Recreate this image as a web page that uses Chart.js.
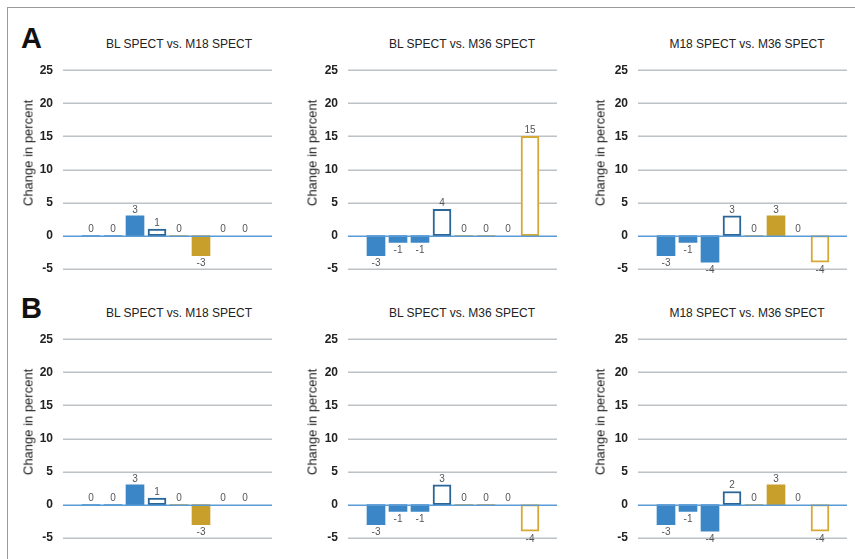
<!DOCTYPE html>
<html>
<head>
<meta charset="utf-8">
<script src="https://cdn.jsdelivr.net/npm/chart.js@4.4.1/dist/chart.umd.min.js"></script>
<style>
  body { margin: 0; background: #fff; width: 855px; height: 559px; overflow: hidden; position: relative; font-family: "Liberation Sans", Arial, sans-serif; }
  .frame { position: absolute; left: 7px; top: 7px; right: -10px; bottom: -10px; border-left: 1.5px solid #9a9a9a; border-top: 1.5px solid #9a9a9a; }
  .letter { position: absolute; font-weight: bold; font-size: 29px; color: #111; }
  .ptitle { position: absolute; font-size: 12px; color: #222; transform: translateX(-50%); white-space: nowrap; }
  .ytitle { position: absolute; font-size: 13px; color: #222; white-space: nowrap; transform: translate(-50%, -50%) rotate(-90deg); }
  canvas { position: absolute; }
</style>
</head>
<body>
<div class="frame"></div>
<div class="letter" style="left:21px;top:22px">A</div>
<div class="letter" style="left:21px;top:292px">B</div>

<script>
// --- Dados ---
const titulos = ['BL SPECT vs. M18 SPECT', 'BL SPECT vs. M36 SPECT', 'M18 SPECT vs. M36 SPECT'];
const categorias = ['1', '2', '3', '4', '5', '6', '7', '8'];
const yTicks = [-5, 0, 5, 10, 15, 20, 25];

// linha A
const aBL_M18 = [0, 0, 3, 1, 0, -3, 0, 0];
const aBL_M36 = [-3, -1, -1, 4, 0, 0, 0, 15];
const aM18_M36 = [-3, -1, -4, 3, 0, 3, 0, -4];
// linha B
const bBL_M18 = [0, 0, 3, 1, 0, -3, 0, 0];
const bBL_M36 = [-3, -1, -1, 3, 0, 0, 0, -4];
const bM18_M36 = [-3, -1, -4, 2, 0, 3, 0, -4];

// estilo por barra: 0-2 azul cheio, 3 azul vazado, 4-5 dourado cheio, 6-7 dourado vazado
const AZUL = '#3b86c6', AZUL_BORDA = '#2b6597', OURO = '#c99f2b', OURO_BORDA = '#d6a836';
const preenchido = [true, true, true, false, true, true, false, false];
const ehAzul = [true, true, true, true, false, false, false, false];

// posições dos painéis (início das linhas de grade)
const colunas = [63, 348, 638];
const linhas = [70, 339];
const titulosX = [179, 462, 747];
const yTitleX = [28, 312, 600];
const EXT_ESQ = 17, EXT_DIR = 16, LARG_AREA = 176, ALT_AREA = 199, PAD_V = 17;

// linhas de grade estendidas além da área das barras
const gradePlugin = {
    id: 'grade',
    beforeDatasetsDraw(chart) {
        const c = chart.ctx, y = chart.scales.y, a = chart.chartArea;
        c.save();
        c.lineWidth = 1.5;
        c.strokeStyle = '#bcc2c6';
        yTicks.filter(v => v !== 0).forEach(v => {
            const py = Math.round(y.getPixelForValue(v)) + 0.25;
            c.beginPath();
            c.moveTo(a.left - EXT_ESQ, py);
            c.lineTo(a.right + EXT_DIR, py);
            c.stroke();
        });
        c.restore();
    },
    afterDatasetsDraw(chart) {
        const c = chart.ctx, y = chart.scales.y, a = chart.chartArea;
        const py = Math.round(y.getPixelForValue(0)) + 0.25;
        c.save();
        c.lineWidth = 1.5;
        c.strokeStyle = '#5b9bd5';
        c.beginPath();
        c.moveTo(a.left - EXT_ESQ, py);
        c.lineTo(a.right + EXT_DIR, py);
        c.stroke();
        c.restore();
    }
};

const rotulosPlugin = {
    id: 'rotulos',
    afterDatasetsDraw(chart) {
        const c = chart.ctx;
        const meta = chart.getDatasetMeta(0);
        c.save();
        c.font = '10px "Liberation Sans", Arial, sans-serif';
        c.fillStyle = '#555';
        c.textAlign = 'center';
        meta.data.forEach((el, i) => {
            const v = chart.data.datasets[0].data[i];
            if (v >= 0) {
                c.textBaseline = 'bottom';
                c.fillText(String(v), el.x, el.y - 1);
            } else {
                c.textBaseline = 'top';
                c.fillText(String(v), el.x, el.y + 3);
            }
        });
        c.restore();
    }
};

const criarPainel = (valores, col, lin) => {
    const cv = document.createElement('canvas');
    const W = 67 + LARG_AREA + EXT_DIR + 4, H = ALT_AREA + 2 * PAD_V;
    cv.width = W; cv.height = H;
    cv.style.left = (colunas[col] - 50) + 'px';
    cv.style.top = (linhas[lin] - PAD_V) + 'px';
    cv.style.width = W + 'px'; cv.style.height = H + 'px';
    document.body.appendChild(cv);

    const t = document.createElement('div');
    t.className = 'ptitle';
    t.textContent = titulos[col];
    t.style.left = titulosX[col] + 'px';
    t.style.top = (linhas[lin] - 33) + 'px';
    document.body.appendChild(t);

    const yt = document.createElement('div');
    yt.className = 'ytitle';
    yt.textContent = 'Change in percent';
    yt.style.left = yTitleX[col] + 'px';
    yt.style.top = (linhas[lin] + 83) + 'px';
    document.body.appendChild(yt);

    new Chart(cv, {
        type: 'bar',
        data: {
            labels: categorias,
            datasets: [{
                data: valores,
                backgroundColor: valores.map((v, i) => preenchido[i] ? (ehAzul[i] ? AZUL : OURO) : '#ffffff'),
                borderColor: valores.map((v, i) => ehAzul[i] ? AZUL_BORDA : OURO_BORDA),
                borderWidth: valores.map((v, i) => preenchido[i] ? 0 : 2),
                borderSkipped: false,
                barThickness: 18
            }]
        },
        options: {
            responsive: false,
            animation: false,
            layout: { padding: { top: PAD_V, bottom: PAD_V, right: EXT_DIR + 4, left: 0 } },
            plugins: { legend: { display: false }, tooltip: { enabled: false }, title: { display: false } },
            scales: {
                x: { display: false, offset: true },
                y: {
                    min: -5, max: 25,
                    afterBuildTicks: s => { s.ticks = yTicks.map(v => ({ value: v })); },
                    afterFit: s => { s.width = 50 + EXT_ESQ; },
                    border: { display: false },
                    grid: { display: false, drawTicks: true, tickLength: EXT_ESQ },
                    ticks: {
                        padding: 10,
                        color: '#222',
                        font: { family: '"Liberation Sans", Arial, sans-serif', size: 12, weight: 'bold' }
                    }
                }
            }
        },
        plugins: [gradePlugin, rotulosPlugin]
    });
};

criarPainel(aBL_M18, 0, 0);
criarPainel(aBL_M36, 1, 0);
criarPainel(aM18_M36, 2, 0);
criarPainel(bBL_M18, 0, 1);
criarPainel(bBL_M36, 1, 1);
criarPainel(bM18_M36, 2, 1);
</script>
</body>
</html>
